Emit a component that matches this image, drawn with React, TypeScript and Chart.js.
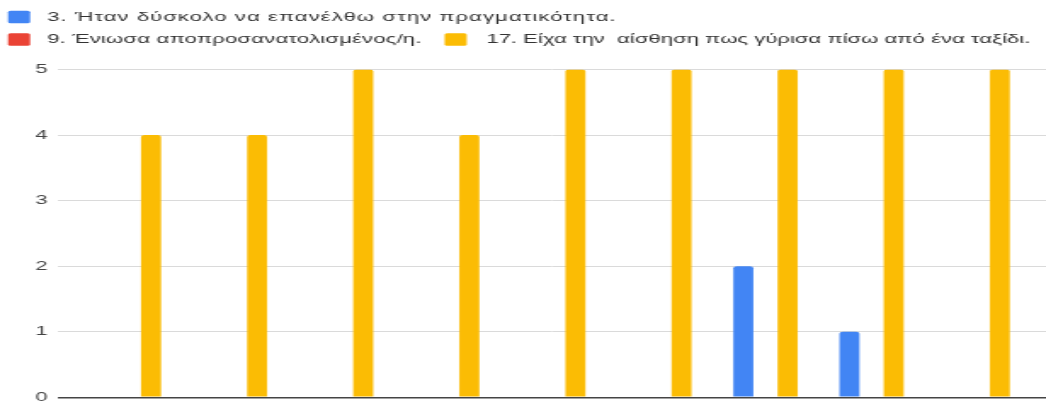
import React, { useEffect, useRef } from "react";
import { Chart, registerables } from "chart.js";

Chart.register(...registerables);

const categories = ["1", "2", "3", "4", "5", "6", "7", "8", "9"];
const seriesNames = [
  "3. Ήταν δύσκολο να επανέλθω στην πραγματικότητα.",
  "9. Ένιωσα αποπροσανατολισμένος/η.",
  "17. Είχα την  αίσθηση πως γύρισα πίσω από ένα ταξίδι.",
];
const series3 = [0, 0, 0, 0, 0, 0, 2, 1, 0];
const series9 = [0, 0, 0, 0, 0, 0, 0, 0, 0];
const series17 = [4, 4, 5, 4, 5, 5, 5, 5, 5];
const seriesColors = ["#4285F4", "#EA4335", "#FBBC04"];
const yMin = 0;
const yMax = 5;

const W = 615;
const H = 403;
const S = 1046 / W;
const FONT = 'Arial, "Liberation Sans", sans-serif';

const legendPlugin = {
  id: "rowLegend",
  afterDraw(chart: any) {
    const ctx = chart.ctx;
    const ds = chart.data.datasets;
    ctx.save();
    ctx.font = `13px ${FONT}`;
    ctx.textBaseline = "middle";
    const rows = [[0], [1, 2]];
    const rowY = [17, 39.5];
    const spacing = ["0.6px", "0.1px", "0px"];
    const boxW = 13;
    const boxH = 12.5;
    const gapText = 10;
    const gapItem = 13.5;
    rows.forEach((row, r) => {
      let x = 4.7;
      row.forEach((i) => {
        const y = rowY[r];
        ctx.fillStyle = ds[i].backgroundColor;
        ctx.beginPath();
        if (ctx.roundRect) ctx.roundRect(x, y - boxH / 2, boxW, boxH, 1.5);
        else ctx.rect(x, y - boxH / 2, boxW, boxH);
        ctx.fill();
        x += boxW + (i === 2 ? gapText + 1.5 : gapText);
        ctx.fillStyle = "#333333";
        if ("letterSpacing" in ctx) ctx.letterSpacing = spacing[i];
        ctx.fillText(ds[i].label, x, y);
        x += ctx.measureText(ds[i].label).width + gapItem;
      });
    });
    ctx.restore();
  },
};

export default function App() {
  const ref = useRef<HTMLCanvasElement | null>(null);
  useEffect(() => {
    document.body.style.margin = "0";
    const values = [series3, series9, series17];
    const chart = new Chart(ref.current as HTMLCanvasElement, {
      type: "bar",
      data: {
        labels: categories,
        datasets: values.map((vals, k) => ({
          label: seriesNames[k],
          data: vals.map((v, i) => ({ x: i, y: v })),
          backgroundColor: seriesColors[k],
          borderRadius: 2,
          borderSkipped: "start",
          categoryPercentage: 0.626,
          barPercentage: 0.903,
        })),
      },
      options: {
        animation: false,
        responsive: true,
        maintainAspectRatio: false,
        layout: { padding: { top: 69.5, bottom: 5.7, left: 0, right: 0 } },
        plugins: { legend: { display: false }, tooltip: { enabled: false } },
        scales: {
          x: {
            type: "linear",
            min: -0.668,
            max: 8.644,
            offset: false,
            display: false,
            ticks: { stepSize: 1, includeBounds: false },
            grid: { display: false },
          },
          y: {
            min: yMin,
            max: yMax,
            border: { display: false },
            ticks: {
              stepSize: 1,
              padding: 6,
              color: "#444444",
              font: { family: FONT, size: 13 },
            },
            grid: {
              drawTicks: false,
              color: (c: any) => (c.tick && c.tick.value === 0 ? "#444444" : "#dadada"),
              lineWidth: (c: any) => (c.tick && c.tick.value === 0 ? 1.5 : 1),
            },
            afterFit: (scale: any) => {
              scale.width = 58 / S;
              scale.paddingTop = 0;
              scale.paddingBottom = 0;
            },
          },
        },
      },
      plugins: [legendPlugin],
    });
    return () => chart.destroy();
  }, []);
  return (
    <div
      style={{
        width: W,
        height: H,
        position: "relative",
        transform: `scaleX(${S})`,
        transformOrigin: "0 0",
      }}
    >
      <canvas ref={ref} />
    </div>
  );
}
